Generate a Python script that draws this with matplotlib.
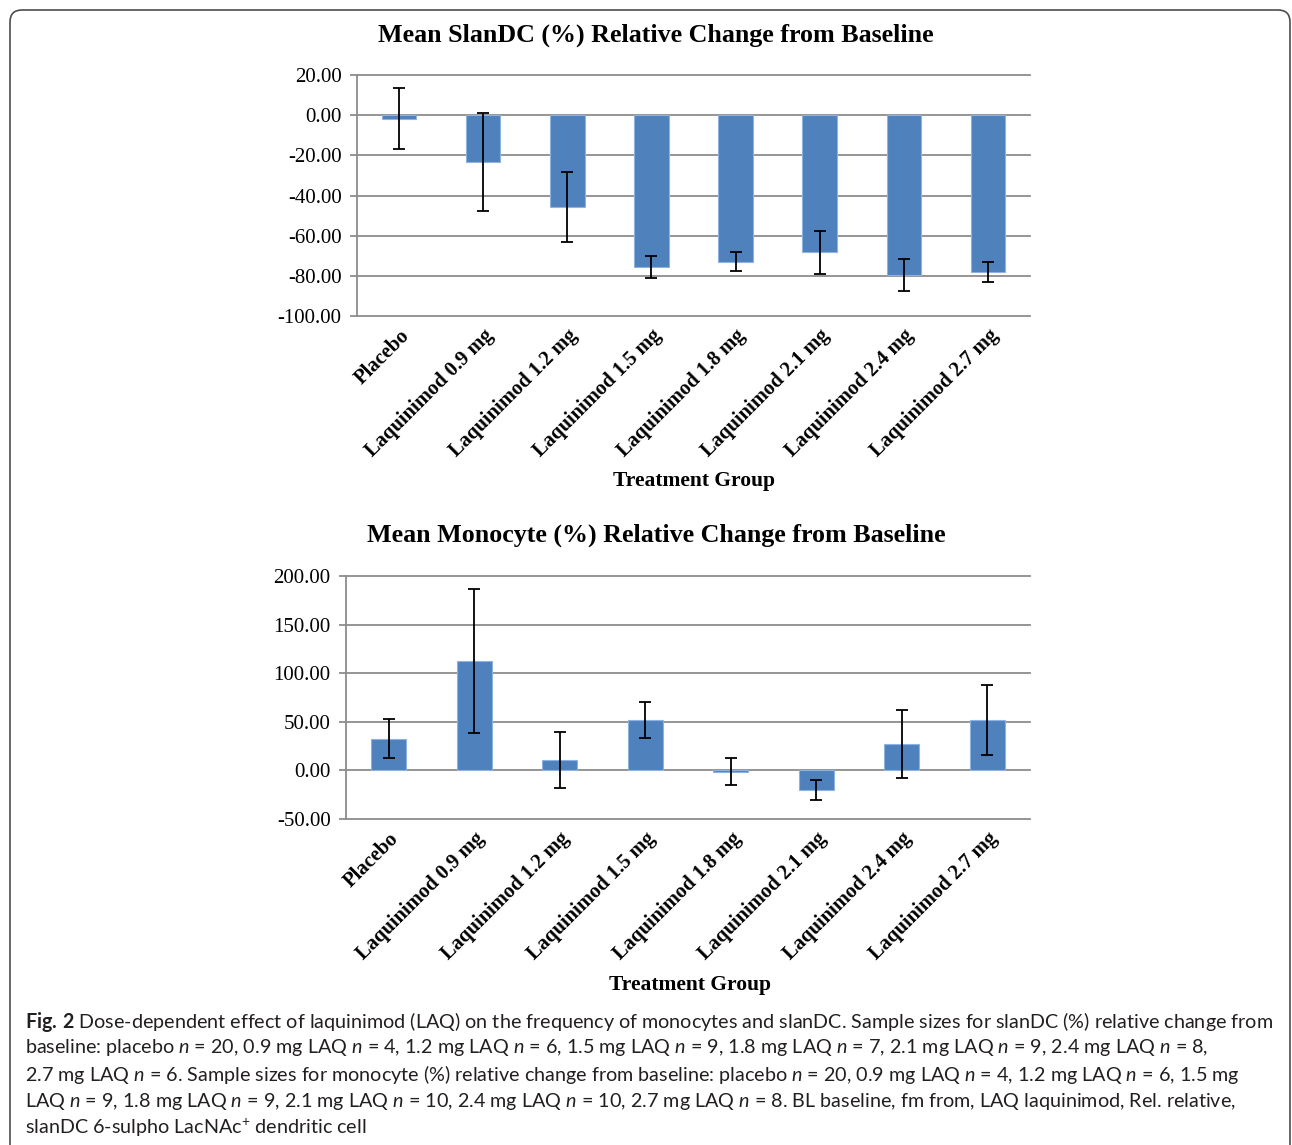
import numpy as np
import matplotlib
matplotlib.use('Agg')
import matplotlib.pyplot as plt
from matplotlib import font_manager
from matplotlib.patches import FancyBboxPatch

groups = ['Placebo', 'Laquinimod 0.9 mg', 'Laquinimod 1.2 mg', 'Laquinimod 1.5 mg',
          'Laquinimod 1.8 mg', 'Laquinimod 2.1 mg', 'Laquinimod 2.4 mg', 'Laquinimod 2.7 mg']

# mean relative change (%) and error bar half-length
slan_mean = [-1.8, -23.3, -45.6, -75.7, -72.9, -68.3, -79.6, -78.2]
slan_err = [15.1, 24.4, 17.5, 5.6, 4.6, 10.7, 8.0, 4.9]
mono_mean = [32.8, 112.7, 11.0, 51.9, -1.5, -20.0, 27.0, 51.7]
mono_err = [20.3, 74.2, 28.8, 18.4, 14.0, 10.2, 35.0, 35.7]

slan_ticks = [20, 0, -20, -40, -60, -80, -100]
mono_ticks = [200, 150, 100, 50, 0, -50]

slan_title = 'Mean SlanDC (%) Relative Change from Baseline'
mono_title = 'Mean Monocyte (%) Relative Change from Baseline'
xlabel = 'Treatment Group'

caption = [
    r'$\mathbf{Fig.\,2}$ Dose-dependent effect of laquinimod (LAQ) on the frequency of monocytes and slanDC. Sample sizes for slanDC (%) relative change from',
    r'baseline: placebo $\mathit{n}$ = 20, 0.9 mg LAQ $\mathit{n}$ = 4, 1.2 mg LAQ $\mathit{n}$ = 6, 1.5 mg LAQ $\mathit{n}$ = 9, 1.8 mg LAQ $\mathit{n}$ = 7, 2.1 mg LAQ $\mathit{n}$ = 9, 2.4 mg LAQ $\mathit{n}$ = 8,',
    r'2.7 mg LAQ $\mathit{n}$ = 6. Sample sizes for monocyte (%) relative change from baseline: placebo $\mathit{n}$ = 20, 0.9 mg LAQ $\mathit{n}$ = 4, 1.2 mg LAQ $\mathit{n}$ = 6, 1.5 mg',
    r'LAQ $\mathit{n}$ = 9, 1.8 mg LAQ $\mathit{n}$ = 9, 2.1 mg LAQ $\mathit{n}$ = 10, 2.4 mg LAQ $\mathit{n}$ = 10, 2.7 mg LAQ $\mathit{n}$ = 8. BL baseline, fm from, LAQ laquinimod, Rel. relative,',
    r'slanDC 6-sulpho LacNAc$^{+}$ dendritic cell',
]

serif = 'Liberation Serif'
cap_font = 'Lato'
for f in ['Liberation Sans Narrow', 'Lato']:
    try:
        font_manager.findfont(f, fallback_to_default=False)
        cap_font = f
        break
    except ValueError:
        pass

plt.rcParams['mathtext.fontset'] = 'custom'
plt.rcParams['mathtext.rm'] = cap_font
plt.rcParams['mathtext.it'] = cap_font + ':italic'
plt.rcParams['mathtext.bf'] = cap_font + ':bold'

blue = '#4F81BD'
grid = '#8c8c8c'

fig = plt.figure(figsize=(12.92, 11.45), dpi=100)


def draw_panel(ax, means, errs, ticks):
    x = np.arange(len(groups))
    ax.bar(x, means, width=0.41, color=blue, edgecolor='#8DB3E2', linewidth=0.8, zorder=3)
    ax.errorbar(x, means, yerr=errs, fmt='none', ecolor='black', elinewidth=1.3,
                capsize=4.5, capthick=1.3, zorder=4)
    ax.set_xlim(-0.5, 7.5)
    ax.set_ylim(min(ticks), max(ticks))
    ax.set_yticks(ticks)
    ax.set_yticklabels(['%.2f' % t for t in ticks], fontname=serif, fontsize=15)
    ax.yaxis.grid(True, color=grid, linewidth=1.3)
    for g in ax.get_ygridlines():
        g.set_clip_on(False)
    ax.set_axisbelow(True)
    for s in ['top', 'right', 'bottom']:
        ax.spines[s].set_visible(False)
    ax.spines['left'].set_color(grid)
    ax.spines['left'].set_linewidth(1.3)
    ax.tick_params(axis='y', length=5, color=grid, width=1.3, pad=6)
    ax.set_xticks(x)
    ax.set_xticklabels(groups, rotation=45, ha='right', rotation_mode='anchor',
                       fontname=serif, fontweight='bold', fontsize=14.8)
    ax.tick_params(axis='x', length=0, pad=7)


ax1 = fig.add_axes([0.2763, 0.7240, 0.5209, 0.2105])
draw_panel(ax1, slan_mean, slan_err, slan_ticks)
ax2 = fig.add_axes([0.2678, 0.2847, 0.5294, 0.2122])
draw_panel(ax2, mono_mean, mono_err, mono_ticks)

fig.text(0.5077, 0.9694, slan_title, ha='center', va='center', fontname=serif,
         fontweight='bold', fontsize=18.7)
fig.text(0.5077, 0.5328, mono_title, ha='center', va='center', fontname=serif,
         fontweight='bold', fontsize=18.7)
fig.text(0.5372, 0.5799, xlabel, ha='center', va='center', fontname=serif,
         fontweight='bold', fontsize=15.5)
fig.text(0.5341, 0.1397, xlabel, ha='center', va='center', fontname=serif,
         fontweight='bold', fontsize=15.5)

# caption, sized so the first line spans the box width
renderer = fig.canvas.get_renderer()
probe = fig.text(25, 0, caption[0], fontsize=13.5, family=cap_font, transform=None)
w = probe.get_window_extent(renderer).width
probe.remove()
cap_size = 13.5 * 1247 / w
line_y = [1022, 1048, 1075, 1101, 1128]
for line, yy in zip(caption, line_y):
    fig.text(25, 1145 - yy, line, fontsize=cap_size, family=cap_font, color='#231f20',
             va='center', transform=None)

box = FancyBboxPatch((10, -30), 1280, 1135 + 30, boxstyle='round,pad=0,rounding_size=12',
                     facecolor='none', edgecolor='#4d4d4d', linewidth=1.2, transform=None)
fig.patches.append(box)

fig.savefig('out.png', dpi=100)
